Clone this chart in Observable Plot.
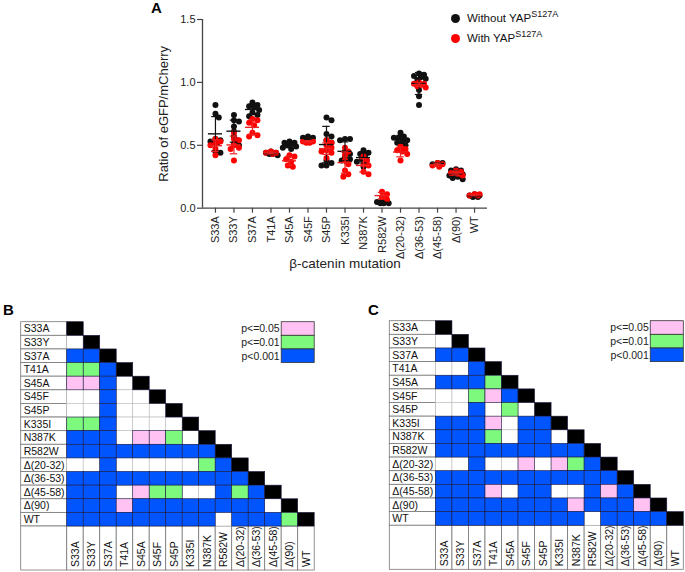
<!DOCTYPE html>
<html><head><meta charset="utf-8">
<script src="https://cdn.jsdelivr.net/npm/d3@7"></script>
<script src="https://cdn.jsdelivr.net/npm/@observablehq/plot@0.6"></script>
<style>
body{margin:0;background:#fff;font-family:"Liberation Sans",Arial,sans-serif;}
#fig{position:relative;width:685px;height:572px;overflow:hidden;background:#fff;}
.pl{position:absolute;font-weight:bold;font-size:15px;color:#000;line-height:1;}
.lgt{position:absolute;font-size:11.5px;color:#111;line-height:14px;white-space:nowrap;}
.lgt sup{font-size:9px;vertical-align:5px;line-height:0;}
.dot{position:absolute;width:9px;height:9px;border-radius:50%;}
.holder{position:absolute;}
</style></head><body>
<div id="fig">
  <div class="holder" id="top" style="left:0;top:0"></div>
  <div class="holder" id="mb" style="left:0;top:300px"></div>
  <div class="holder" id="mc" style="left:340px;top:300px"></div>
  <div class="pl" style="left:151px;top:0px">A</div>
  <div class="pl" style="left:3px;top:302px">B</div>
  <div class="pl" style="left:368px;top:302px">C</div>
  <div class="dot" style="left:451px;top:14px;background:#111"></div>
  <div class="lgt" style="left:467px;top:11px">Without YAP<sup>S127A</sup></div>
  <div class="dot" style="left:451px;top:34px;background:#f00"></div>
  <div class="lgt" style="left:467px;top:31px">With YAP<sup>S127A</sup></div>
</div>
<script>
const categories = ["S33A","S33Y","S37A","T41A","S45A","S45F","S45P","K335I","N387K","R582W","Δ(20-32)","Δ(36-53)","Δ(45-58)","Δ(90)","WT"];
const yTicks = [0, 0.5, 1.0, 1.5];
const yLabel = "Ratio of eGFP/mCherry";
const xLabel = "β-catenin mutation";

const withoutYAP = [
  [0.82, 0.75, 0.72, 0.55, 0.54, 0.53, 0.52, 0.45, 0.44],
  [0.74, 0.70, 0.69, 0.65, 0.61, 0.57, 0.54, 0.51, 0.50],
  [0.84, 0.82, 0.81, 0.80, 0.78, 0.76, 0.74, 0.73],
  [0.45, 0.44, 0.44, 0.43, 0.43, 0.42],
  [0.53, 0.52, 0.52, 0.51, 0.50, 0.49, 0.48, 0.47],
  [0.57, 0.56, 0.56, 0.55, 0.54],
  [0.72, 0.70, 0.59, 0.57, 0.54, 0.52, 0.38, 0.36, 0.34, 0.34],
  [0.55, 0.55, 0.54, 0.45, 0.43, 0.41, 0.39, 0.38, 0.37],
  [0.46, 0.44, 0.43, 0.42, 0.39, 0.38, 0.37, 0.33],
  [0.06, 0.05, 0.04, 0.04, 0.05, 0.04],
  [0.60, 0.57, 0.56, 0.56, 0.54, 0.53, 0.52, 0.50],
  [1.07, 1.06, 1.05, 1.04, 1.03, 1.02, 0.94, 0.89, 0.82],
  [0.36, 0.36, 0.35, 0.35],
  [0.31, 0.30, 0.30, 0.29, 0.28, 0.27, 0.26, 0.25, 0.24, 0.23],
  [0.11, 0.10, 0.10, 0.09, 0.09, 0.10]
];
const withYAP = [
  [0.55, 0.53, 0.51, 0.50, 0.47, 0.42],
  [0.60, 0.55, 0.54, 0.50, 0.48, 0.47, 0.38],
  [0.71, 0.70, 0.68, 0.66, 0.60, 0.58, 0.57],
  [0.45, 0.44, 0.44, 0.43],
  [0.42, 0.41, 0.39, 0.37, 0.34, 0.33],
  [0.54, 0.53, 0.53, 0.52, 0.52],
  [0.54, 0.52, 0.50, 0.48, 0.46, 0.45, 0.44, 0.40],
  [0.48, 0.45, 0.42, 0.38, 0.35, 0.30, 0.27, 0.25],
  [0.41, 0.38, 0.35, 0.34, 0.29, 0.27],
  [0.13, 0.11, 0.09, 0.07],
  [0.49, 0.47, 0.46, 0.45, 0.43, 0.38],
  [1.00, 0.99, 0.99, 0.98, 0.97, 0.96],
  [0.36, 0.35, 0.34, 0.33],
  [0.30, 0.29, 0.28, 0.27, 0.26],
  [0.11, 0.11, 0.10, 0.10]
];

// significance matrices (lower triangle, row i has i entries): B=p<0.001, G=p<=0.01, P=p<=0.05, W=n.s.
const matrixB = ["","W","BB","GGB","PPBW","WWBWW","WWBWWW","GGBWWWW","BBBWPPGW","BBBBBBBBB","WWBWWWWWGB","BBBBBBBBBBB","BBBWPGGWWBGB","BBBPBBBBBBBBW","BBBBBBBBBWBBBG"];
const matrixC = ["","W","BB","WWB","BBBG","WWGPB","WWBWGW","BBBPWBB","BBBGWBBW","BBBBBBBBB","WWBWWPWPGB","BBBBBBBBBBB","BBBPWBBWWBPB","BBBBBBBBPBBBP","BBBBBBBBBWBBBB"];
const legendLabels = ["p<=0.05","p<=0.01","p<0.001"];
const legendCodes = ["P","G","B"];

const font = "'Liberation Sans', Arial, sans-serif";
const pxPerX = 18.5, pxPerY = 125.4;

// beeswarm-style horizontal spreading of points within a column
function swarm(series) {
  const out = [];
  series.forEach((vals, i) => {
    const placed = [];
    [...vals].sort((a, b) => b - a).forEach(v => {
      let off = 0, best = -1;
      for (let s = 0; s < 9; s++) {
        const cand = s === 0 ? 0 : (s % 2 ? 1 : -1) * Math.ceil(s / 2) * 0.09;
        const dmin = placed.length ? d3.min(placed, q => Math.hypot((q.o - cand) * pxPerX, (q.v - v) * pxPerY)) : Infinity;
        if (dmin >= 4.4) { off = cand; break; }
        if (dmin > best) { best = dmin; off = cand; }
      }
      placed.push({o: off, v});
      out.push({i, x: i + off, value: v});
    });
  });
  return out;
}
function stats(series) {
  return series.map((vals, i) => ({i, mean: d3.mean(vals), sd: d3.deviation(vals)}));
}
function barMarks(st, color) {
  return [
    Plot.ruleX(st, {x: "i", y1: d => d.mean - d.sd, y2: d => d.mean + d.sd, stroke: color, strokeWidth: 1.2}),
    Plot.ruleY(st, {y: d => d.mean + d.sd, x1: d => d.i - 0.2, x2: d => d.i + 0.2, stroke: color, strokeWidth: 1.2}),
    Plot.ruleY(st, {y: d => d.mean - d.sd, x1: d => d.i - 0.2, x2: d => d.i + 0.2, stroke: color, strokeWidth: 1.2}),
    Plot.ruleY(st, {y: "mean", x1: d => d.i - 0.38, x2: d => d.i + 0.38, stroke: color, strokeWidth: 1.4})
  ];
}

const blackPts = swarm(withoutYAP), redPts = swarm(withYAP);
const blackSt = stats(withoutYAP), redSt = stats(withYAP);

const topChart = Plot.plot({
  width: 685, height: 290,
  marginLeft: 202, marginRight: 198, marginTop: 19, marginBottom: 82.3,
  style: {fontFamily: font, color: "#222", background: "transparent", overflow: "visible"},
  x: {type: "linear", domain: [-0.7, 14.7]},
  y: {domain: [0, 1.5]},
  marks: [
    Plot.axisY({ticks: yTicks, tickFormat: d3.format(".1f"), tickSize: 5, tickPadding: 2, label: null, fontSize: 11, stroke: "#444", strokeWidth: 1.2}),
    Plot.axisX({ticks: d3.range(categories.length), tickFormat: i => categories[i], tickRotate: -90, tickSize: 5, tickPadding: 3, label: null, fontSize: 11, stroke: "#444", strokeWidth: 1.2}),
    Plot.ruleX([-0.7], {y1: 0, y2: 1.5, stroke: "#444", strokeWidth: 1.3}),
    Plot.ruleY([0], {stroke: "#444", strokeWidth: 1.3}),
    Plot.dot(blackPts, {x: "x", y: "value", r: 3, fill: "#111"}),
    Plot.dot(redPts, {x: "x", y: "value", r: 3, fill: "#f00"}),
    ...barMarks(blackSt, "#111"),
    ...barMarks(redSt, "#ee2020"),
    Plot.text([yLabel], {frameAnchor: "left", dx: -39, rotate: -90, textAnchor: "middle", text: d => d, fontSize: 13, fill: "#222"}),
    Plot.text([xLabel], {frameAnchor: "bottom", dy: 60, textAnchor: "middle", text: d => d, fontSize: 13.5, fill: "#222"})
  ]
});
document.getElementById("top").appendChild(topChart);

const fillOf = {K: "#000", B: "#0055ff", G: "#7df97d", P: "#ffc2f3", W: "#ffffff"};

function matrixChart(mat, w, h, xr, yr) {
  const n = categories.length, LW = 2.79, BH = 3.23;
  const cells = [];
  mat.forEach((row, i) => {
    [...row].forEach((c, j) => cells.push({i, j, c}));
    cells.push({i, j: i, c: "K"});
  });
  const whiteCells = cells.filter(d => d.c === "W");
  const colorCells = cells.filter(d => d.c !== "W");
  const fs = 10.5;
  return Plot.plot({
    width: w, height: h, margin: 0,
    style: {fontFamily: font, color: "#111", background: "transparent", overflow: "visible"},
    x: {type: "linear", domain: [-LW, n], range: xr, axis: null},
    y: {type: "linear", domain: [0, n + BH], range: yr, axis: null},
    color: {type: "identity"},
    marks: [
      Plot.rect(categories, {x1: -LW, x2: 0, y1: (d, i) => i, y2: (d, i) => i + 1, fill: "white", stroke: "#777", strokeWidth: 0.8}),
      Plot.text(categories, {x: -LW, dx: 2.5, y: (d, i) => i + 0.5, text: d => d, textAnchor: "start", fontSize: fs, fill: "#111"}),
      Plot.rect([0], {x1: -LW, x2: 0, y1: n, y2: n + BH, fill: "white", stroke: "#777", strokeWidth: 0.8}),
      Plot.rect(categories, {x1: (d, i) => i, x2: (d, i) => i + 1, y1: n, y2: n + BH, fill: "white", stroke: "#777", strokeWidth: 0.8}),
      Plot.text(categories, {x: (d, i) => i + 0.5, y: n + BH, dy: -3.5, rotate: -90, text: d => d, textAnchor: "start", lineAnchor: "middle", fontSize: fs, fill: "#111"}),
      Plot.rect(whiteCells, {x1: "j", x2: d => d.j + 1, y1: "i", y2: d => d.i + 1, fill: "#fff", stroke: "#bbb", strokeWidth: 0.6}),
      Plot.rect(colorCells, {x1: "j", x2: d => d.j + 1, y1: "i", y2: d => d.i + 1, fill: d => fillOf[d.c], stroke: "#1a1a40", strokeWidth: 0.6}),
      Plot.rect(legendCodes, {x1: n - 2, x2: n, y1: (d, k) => k, y2: (d, k) => k + 1, fill: d => fillOf[d], stroke: "#333", strokeWidth: 0.8}),
      Plot.text(legendLabels, {x: n - 2, dx: -2, y: (d, k) => k + 0.5, text: d => d, textAnchor: "end", fontSize: fs, fill: "#222"})
    ]
  });
}
document.getElementById("mb").appendChild(matrixChart(matrixB, 340, 272, [20.7, 314.2], [21.7, 270]));
document.getElementById("mc").appendChild(matrixChart(matrixC, 345, 272, [49.3, 343.3], [20.7, 269.3]));
</script>
</body></html>
